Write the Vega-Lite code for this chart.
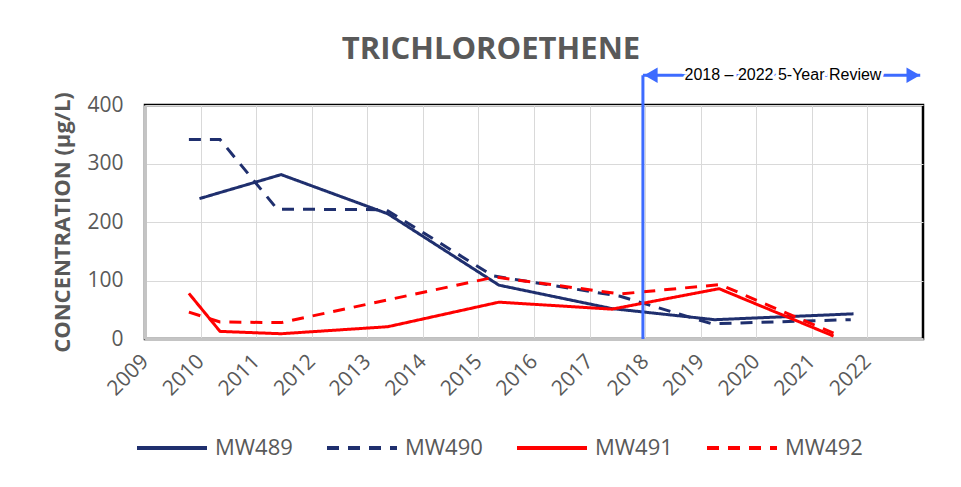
{
  "$schema": "https://vega.github.io/schema/vega-lite/v6.json",
  "width": 778,
  "height": 234,
  "autosize": {"type": "none"},
  "padding": {"left": 145, "top": 105, "right": 38, "bottom": 148},
  "background": "white",
  "config": {
    "view": {"stroke": "#000000", "strokeWidth": 2.5},
    "font": "Open Sans"
  },
  "title": {
    "text": "TRICHLOROETHENE",
    "font": "Open Sans",
    "fontSize": 31,
    "fontWeight": "bold",
    "color": "#595959",
    "anchor": "middle",
    "frame": "group",
    "dx": -43,
    "dy": 7,
    "offset": 8
  },
  "datasets": {
    "series": [
      {"well": "MW489", "year": 2009.98, "conc": 240},
      {"well": "MW489", "year": 2011.45, "conc": 281},
      {"well": "MW489", "year": 2013.37, "conc": 214},
      {"well": "MW489", "year": 2015.37, "conc": 92},
      {"well": "MW489", "year": 2017.4, "conc": 52},
      {"well": "MW489", "year": 2019.25, "conc": 33},
      {"well": "MW489", "year": 2021.75, "conc": 43},
      {"well": "MW490", "year": 2009.79, "conc": 341},
      {"well": "MW490", "year": 2010.35, "conc": 341},
      {"well": "MW490", "year": 2011.38, "conc": 222},
      {"well": "MW490", "year": 2013.34, "conc": 221},
      {"well": "MW490", "year": 2015.26, "conc": 108},
      {"well": "MW490", "year": 2017.55, "conc": 73},
      {"well": "MW490", "year": 2019.2, "conc": 26},
      {"well": "MW490", "year": 2021.7, "conc": 33},
      {"well": "MW491", "year": 2009.79, "conc": 78},
      {"well": "MW491", "year": 2010.35, "conc": 13},
      {"well": "MW491", "year": 2011.45, "conc": 9},
      {"well": "MW491", "year": 2013.37, "conc": 21},
      {"well": "MW491", "year": 2015.37, "conc": 63},
      {"well": "MW491", "year": 2017.4, "conc": 51},
      {"well": "MW491", "year": 2019.33, "conc": 86},
      {"well": "MW491", "year": 2021.39, "conc": 5},
      {"well": "MW492", "year": 2009.79, "conc": 46},
      {"well": "MW492", "year": 2010.35, "conc": 29},
      {"well": "MW492", "year": 2011.45, "conc": 28},
      {"well": "MW492", "year": 2015.3, "conc": 106},
      {"well": "MW492", "year": 2017.55, "conc": 77},
      {"well": "MW492", "year": 2019.35, "conc": 93},
      {"well": "MW492", "year": 2021.39, "conc": 10}
    ],
    "review": [
      {"start": 2017.96, "end": 2022.95, "bottom": 0, "top": 451, "mid": 2020.48, "label": "2018 – 2022 5-Year Review"}
    ]
  },
  "layer": [
    {
      "data": {"name": "series"},
      "mark": {"type": "line", "strokeWidth": 3, "strokeCap": "butt", "strokeJoin": "miter"},
      "encoding": {
        "x": {
          "field": "year",
          "type": "quantitative",
          "scale": {"domain": [2009, 2023], "nice": false, "zero": false},
          "axis": {
            "title": null,
            "values": [2009, 2010, 2011, 2012, 2013, 2014, 2015, 2016, 2017, 2018, 2019, 2020, 2021, 2022],
            "format": "d",
            "labelAngle": -45,
            "labelAlign": "right",
            "labelBaseline": "middle",
            "labelPadding": 19,
            "labelOffset": 0,
            "labelFontSize": 21,
            "labelColor": "#595959",
            "labelFont": "Open Sans",
            "ticks": false,
            "tickSize": 0,
            "grid": true,
            "gridColor": "#d9d9d9",
            "gridWidth": 1,
            "domainColor": "#c4c4c4",
            "domainWidth": 3,
            "labelFlush": false,
            "labelOverlap": false
          }
        },
        "y": {
          "field": "conc",
          "type": "quantitative",
          "scale": {"domain": [0, 400], "nice": false},
          "axis": {
            "title": "CONCENTRATION (µg/L)",
            "titleFont": "Open Sans",
            "titleFontSize": 22,
            "titleFontWeight": "bold",
            "titleColor": "#595959",
            "titlePadding": 12,
            "values": [0, 100, 200, 300, 400],
            "labelFontSize": 21,
            "labelColor": "#595959",
            "labelFont": "Open Sans",
            "labelPadding": 22,
            "ticks": false,
            "tickSize": 0,
            "grid": true,
            "gridColor": "#d9d9d9",
            "gridWidth": 1,
            "domainColor": "#c4c4c4",
            "domainWidth": 3,
            "labelFlush": false
          }
        },
        "color": {
          "field": "well",
          "type": "nominal",
          "scale": {"domain": ["MW489", "MW490", "MW491", "MW492"], "range": ["#1f2f6e", "#1f2f6e", "#ff0000", "#ff0000"]},
          "legend": {
            "title": null,
            "orient": "none",
            "legendX": -10,
            "legendY": 306,
            "direction": "horizontal",
            "symbolType": "stroke",
            "symbolSize": 4900,
            "symbolStrokeWidth": 4,
            "labelFontSize": 22,
            "labelFont": "Open Sans",
            "labelColor": "#595959",
            "labelOffset": 6,
            "columnPadding": 26
          }
        },
        "strokeDash": {
          "field": "well",
          "type": "nominal",
          "scale": {"domain": ["MW489", "MW490", "MW491", "MW492"], "range": [[1, 0], [12, 9], [1, 0], [12, 9]]},
          "legend": {
            "title": null,
            "orient": "none",
            "legendX": -10,
            "legendY": 306,
            "direction": "horizontal",
            "symbolType": "stroke",
            "symbolSize": 4900,
            "symbolStrokeWidth": 4,
            "labelFontSize": 22,
            "labelFont": "Open Sans",
            "labelColor": "#595959",
            "labelOffset": 6,
            "columnPadding": 26
          }
        }
      }
    },
    {
      "data": {"name": "review"},
      "mark": {"type": "rule", "color": "#3d6bff", "strokeWidth": 3},
      "encoding": {
        "x": {"field": "start", "type": "quantitative"},
        "y": {"field": "bottom", "type": "quantitative"},
        "y2": {"field": "top"}
      }
    },
    {
      "data": {"name": "review"},
      "mark": {"type": "rule", "color": "#3d6bff", "strokeWidth": 3},
      "encoding": {
        "x": {"field": "start", "type": "quantitative"},
        "x2": {"field": "end"},
        "y": {"field": "top", "type": "quantitative"}
      }
    },
    {
      "data": {"name": "review"},
      "mark": {"type": "point", "shape": "triangle-left", "filled": true, "color": "#3d6bff", "opacity": 1, "size": 240, "xOffset": 8},
      "encoding": {
        "x": {"field": "start", "type": "quantitative"},
        "y": {"field": "top", "type": "quantitative"}
      }
    },
    {
      "data": {"name": "review"},
      "mark": {"type": "point", "shape": "triangle-right", "filled": true, "color": "#3d6bff", "opacity": 1, "size": 240, "xOffset": -7},
      "encoding": {
        "x": {"field": "end", "type": "quantitative"},
        "y": {"field": "top", "type": "quantitative"}
      }
    },
    {
      "data": {"name": "review"},
      "mark": {"type": "text", "font": "Liberation Sans", "fontSize": 16, "fill": "white", "stroke": "white", "strokeWidth": 6, "align": "center", "baseline": "middle"},
      "encoding": {
        "x": {"field": "mid", "type": "quantitative"},
        "y": {"field": "top", "type": "quantitative"},
        "text": {"field": "label"}
      }
    },
    {
      "data": {"name": "review"},
      "mark": {"type": "text", "font": "Liberation Sans", "fontSize": 16, "color": "#000000", "align": "center", "baseline": "middle"},
      "encoding": {
        "x": {"field": "mid", "type": "quantitative"},
        "y": {"field": "top", "type": "quantitative"},
        "text": {"field": "label"}
      }
    }
  ]
}
